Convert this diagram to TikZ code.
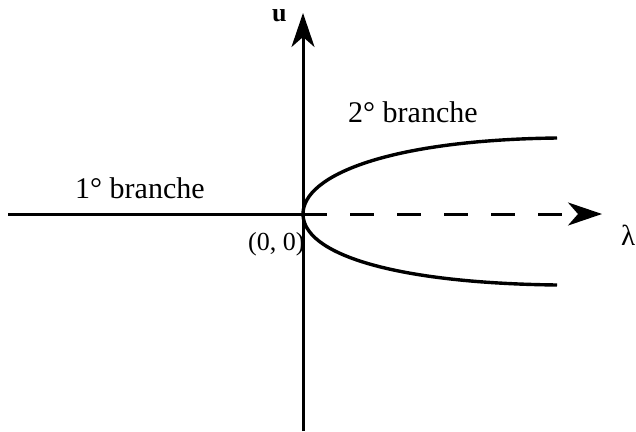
\documentclass[tikz,border=0pt]{standalone}
\usepackage{fontspec}
\setmainfont{Liberation Serif}
\usetikzlibrary{arrows.meta}
\begin{document}
\begin{tikzpicture}[x=1pt,y=-1pt,
  axis/.style={line width=3pt},
  curve/.style={line width=3.4pt},
  tip/.style={-{Stealth[length=34pt,width=23pt,inset=10pt]}},
  lbl/.style={inner sep=0pt,anchor=base west,font=\fontsize{30}{30}\selectfont},
  small/.style={inner sep=0pt,anchor=base west,font=\fontsize{26}{26}\selectfont}]
\useasboundingbox (0,0) rectangle (636,431);
\coordinate (O) at (303,214);
\coordinate (top) at (303,13);
\coordinate (bot) at (303,431);
\coordinate (left) at (8,214);
\coordinate (right) at (602,214);
\coordinate (up) at (557,138);
\coordinate (low) at (557,285);
% axes
\draw[axis,tip] (bot) -- (top);
\draw[axis] (left) -- (O);
\draw[axis,tip,dash pattern=on 24pt off 23pt] (O) -- (right);
% parabola
\draw[curve] (up) .. controls (390,140) and (303,175) .. (O)
             .. controls (303,253) and (390,283) .. (low);
% labels
\node[small,font=\fontsize{26}{26}\selectfont\bfseries] (ulbl) at (272,21) {u};
\node[small,font=\fontsize{29}{29}\selectfont] (lam) at (621,245) {λ};
\node[small] (orig) at (248,250) {(0, 0)};
\node[lbl] (b1) at (75,198) {1° branche};
\node[lbl] (b2) at (348,122) {2° branche};
\end{tikzpicture}
\end{document}
